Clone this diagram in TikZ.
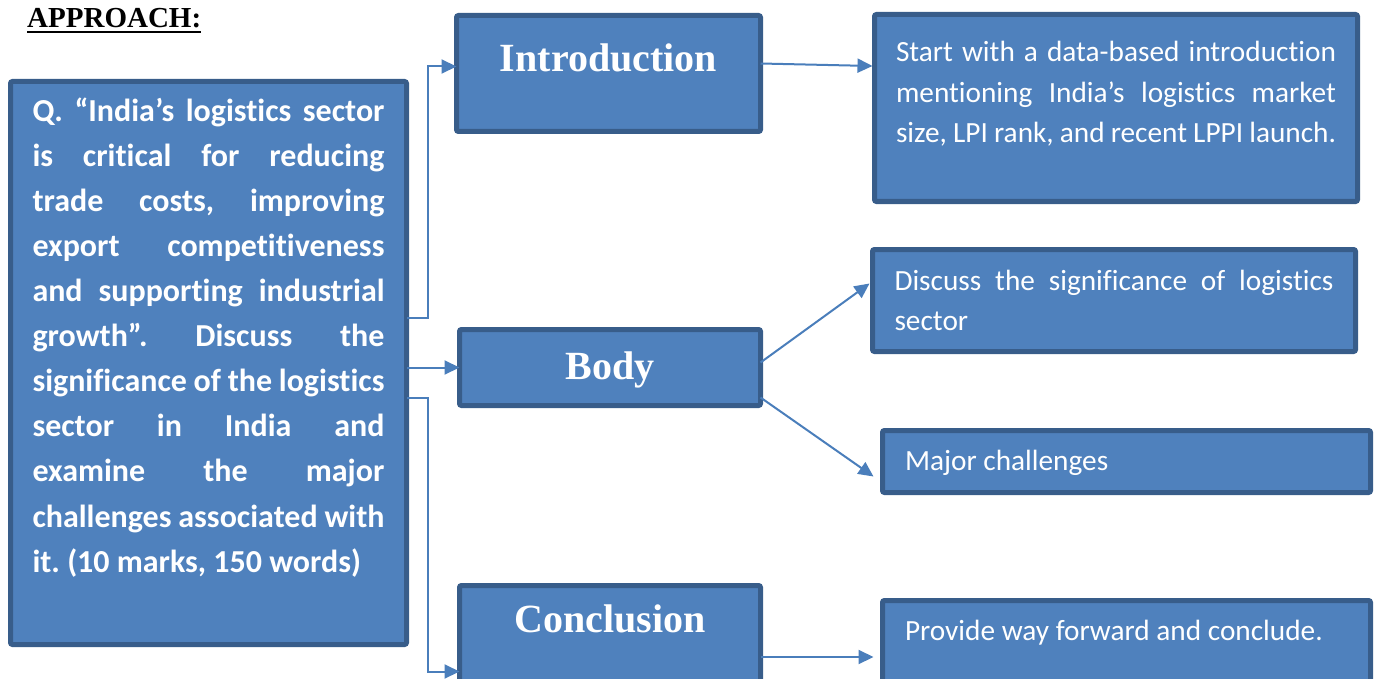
\documentclass[tikz,border=0pt]{standalone}
\usepackage{fontspec}
\setmainfont{Carlito}[Ligatures={CommonOff,ContextualOff,RareOff}]
\newfontfamily\headfont{Liberation Serif}
\usetikzlibrary{arrows.meta,positioning,calc}
\frenchspacing

\definecolor{boxfill}{HTML}{4F81BD}
\definecolor{boxline}{HTML}{385D8A}
\definecolor{linkblue}{HTML}{4A7EBB}

\begin{document}
\begin{tikzpicture}[x=1pt, y=-1pt, >={Triangle[length=15pt,width=14pt]}]
	\tikzset{
		panel/.style={draw=boxline, fill=boxfill, line width=5pt, rounded corners=2pt,
			text=white, inner sep=0pt, outer sep=0pt, anchor=north west},
		stage/.style={panel, minimum width=302pt, font=\headfont\bfseries\fontsize{40}{48}\selectfont},
		note/.style={panel, align=justify, font=\fontsize{29.3}{40.5}\selectfont},
		link/.style={->, draw=linkblue, line width=2pt}
	}
	\useasboundingbox (0,0) rectangle (1375,679);
	\clip (0,0) rectangle (1375,679);

	\node[anchor=base west, inner sep=0pt, font=\headfont\bfseries\fontsize{29}{34}\selectfont] (head) at (27,28) {APPROACH:};
	\draw[line width=2pt] ([yshift=-4pt]head.base west) -- ([yshift=-4pt]head.base east);

	% question
	\node[panel, minimum width=396pt, minimum height=563pt, text width=352pt, align=justify,
		text height=40.5pt, text depth=522.5pt, font=\bfseries\fontsize{32}{45}\selectfont] (q) at (10.5,81.5)
		{Q. “India’s logistics sector\linebreak is critical for reducing\linebreak trade costs, improving\linebreak export competitiveness\linebreak and supporting industrial\linebreak growth”. Discuss the\linebreak significance of the logistics\linebreak sector in India and\linebreak examine the major\linebreak challenges associated with\linebreak it. (10 marks, 150 words)};

	% stages
	\node[stage, minimum width=304pt, minimum height=116pt, text height=56.5pt, text depth=59.5pt] (intro) at (456.5,15.5) {Introduction};
	\node[stage, minimum width=301pt, minimum height=76pt, text height=49.5pt, text depth=26.5pt] (body) at (459.5,329.5) {Body};
	\node[stage, minimum width=301pt, minimum height=120pt, text height=46.5pt, text depth=73.5pt] (concl) at (459.5,585.5) {Conclusion};

	% notes
	\node[note, minimum width=483pt, minimum height=187pt, text width=440pt,
		text height=47.5pt, text depth=139.5pt] (desc) at (874.5,14.5)
		{Start with a data-based introduction\linebreak mentioning India’s logistics market\linebreak size, LPI rank, and recent LPPI launch.};
	\node[note, minimum width=483pt, minimum height=102pt, text width=439pt,
		text height=40.5pt, text depth=61.5pt] (disc) at (872.5,249.5)
		{Discuss the significance of logistics\linebreak sector};
	\node[note, minimum width=488pt, minimum height=62pt, text width=443pt,
		text height=39.5pt, text depth=22.5pt] (major) at (882.5,430.5) {Major challenges};
	\node[note, minimum width=488pt, minimum height=120pt, text width=443pt,
		text height=39.5pt, text depth=80.5pt] (prov) at (882.5,600.5) {Provide way forward and conclude.};

	% connectors
	\draw[link] ([yshift=45pt]q.east) -- ++(21,0) |- ([yshift=7pt]intro.west);
	\draw[link] (q.east |- body.west) -- (body.west);
	\draw[link] ([yshift=-35pt]q.east) -- ++(21,0) |- ([yshift=-26pt]concl.west);
	\draw[link] ([yshift=10pt]intro.east) -- ([xshift=-2pt,yshift=42pt]desc.west);
	\draw[link] ([yshift=5pt]body.east) -- ([xshift=-3pt,yshift=17pt]disc.west);
	\draw[link] ([yshift=-30pt]body.east) -- ([xshift=-9pt,yshift=-15pt]major.west);
	\draw[link] ([yshift=-11.5pt]concl.east) -- ([xshift=-9pt,yshift=3.5pt]prov.west);
\end{tikzpicture}
\end{document}
